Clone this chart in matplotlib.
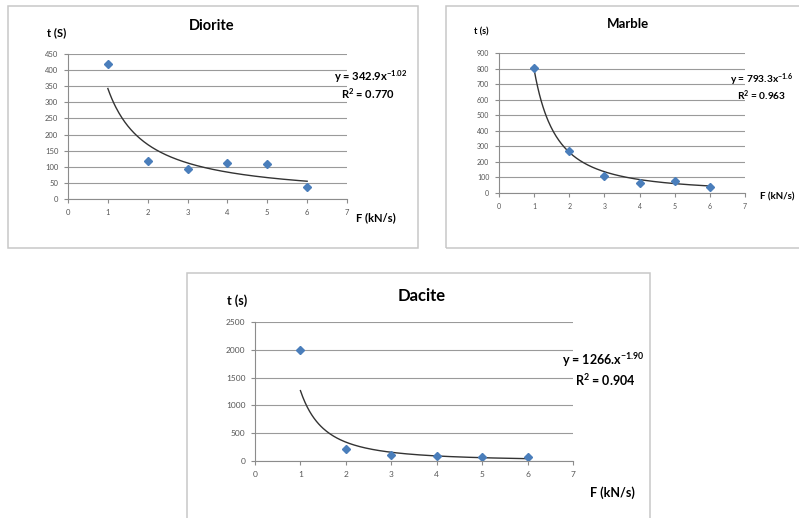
import numpy as np
import matplotlib
matplotlib.use("Agg")
import matplotlib.pyplot as plt
from matplotlib.patches import Rectangle

plt.rcParams['font.family'] = ['Lato', 'DejaVu Sans']
plt.rcParams['mathtext.fontset'] = 'custom'
plt.rcParams['mathtext.rm'] = 'Lato:bold'
plt.rcParams['mathtext.it'] = 'Lato:bold'
plt.rcParams['mathtext.bf'] = 'Lato:bold'

W, H = 799, 518

# data
force = [1, 2, 3, 4, 5, 6]
diorite_t = [418, 118, 92, 112, 108, 38]
marble_t = [805, 271, 112, 64, 79, 39]
dacite_t = [2000, 221, 108, 90, 78, 66]

# power law fits y = a * x^b shown on the charts
diorite_fit = (342.9, -1.02)
marble_fit = (793.3, -1.6)
dacite_fit = (1266.0, -1.90)

diorite_ticks = [0, 50, 100, 150, 200, 250, 300, 350, 400, 450]
marble_ticks = [0, 100, 200, 300, 400, 500, 600, 700, 800, 900]
dacite_ticks = [0, 500, 1000, 1500, 2000, 2500]
x_ticks = [0, 1, 2, 3, 4, 5, 6, 7]

fig = plt.figure(figsize=(W / 100, H / 100), dpi=100)
fig.patch.set_facecolor('white')


def px_axes(x0, y0, x1, y1):
    # pixel box (top-left origin) -> figure axes
    return fig.add_axes([x0 / W, 1 - y1 / H, (x1 - x0) / W, (y1 - y0) / H])


def panel_box(x0, y0, x1, y1):
    fig.patches.append(Rectangle((x0 / W, 1 - y1 / H), (x1 - x0) / W, (y1 - y0) / H,
                                 transform=fig.transFigure, fill=False,
                                 edgecolor='#c8c8c8', linewidth=1.1))


def draw(ax, t, fit, yticks, tick_fs):
    ax.set_xlim(0, 7)
    ax.set_ylim(0, yticks[-1])
    ax.set_xticks(x_ticks)
    ax.set_yticks(yticks)
    ax.grid(axis='y', color='#9a9a9a', linewidth=0.8)
    ax.set_axisbelow(True)
    for s in ['top', 'right']:
        ax.spines[s].set_visible(False)
    for s in ['left', 'bottom']:
        ax.spines[s].set_color('#8c8c8c')
        ax.spines[s].set_linewidth(0.8)
    ax.tick_params(colors='#8c8c8c', labelcolor='#555555', labelsize=tick_fs,
                   length=3, width=0.8, pad=4)
    xs = np.linspace(1, 6, 200)
    ax.plot(xs, fit[0] * xs ** fit[1], color='#333333', linewidth=1.0)
    ax.plot(force, t, linestyle='none', marker='D', markersize=4.5,
            color='#4a7ebb', markeredgecolor='#4a7ebb')
    ax.set_facecolor('none')


def label(x, y, s, fs, ha='center'):
    fig.text(x / W, 1 - y / H, s, ha=ha, va='center', fontsize=fs, fontweight='bold')


# Diorite
panel_box(8, 6, 418, 248)
ax1 = px_axes(68, 54, 347, 199)
draw(ax1, diorite_t, diorite_fit, diorite_ticks, 5.5)
label(212, 26, 'Diorite', 10.5)
label(57, 33, 't (S)', 8)
label(376, 218, 'F (kN/s)', 8)
label(371, 77, 'y = 342.9x$^{-1.02}$', 8)
label(368, 94, 'R$^{2}$ = 0.770', 8)

# Marble
panel_box(446, 6, 812, 248)
ax2 = px_axes(499, 53, 745, 193)
draw(ax2, marble_t, marble_fit, marble_ticks, 5)
label(628, 24, 'Marble', 9.5)
label(481, 32, 't (s)', 6.5)
label(777, 197, 'F (kN/s)', 7)
label(730, 80, 'y = 793.3x$^{-1.6}$', 7.3, ha='left')
label(762, 96, 'R$^{2}$ = 0.963', 7.3)

# Dacite
panel_box(187, 273, 650, 530)
ax3 = px_axes(255, 322, 573, 461)
draw(ax3, dacite_t, dacite_fit, dacite_ticks, 6)
label(422, 296, 'Dacite', 12)
label(237, 301, 't (s)', 9)
label(612, 493, 'F (kN/s)', 9)
label(603, 360, 'y = 1266.x$^{-1.90}$', 9)
label(605, 380, 'R$^{2}$ = 0.904', 9)

fig.savefig('out.png', dpi=100)
